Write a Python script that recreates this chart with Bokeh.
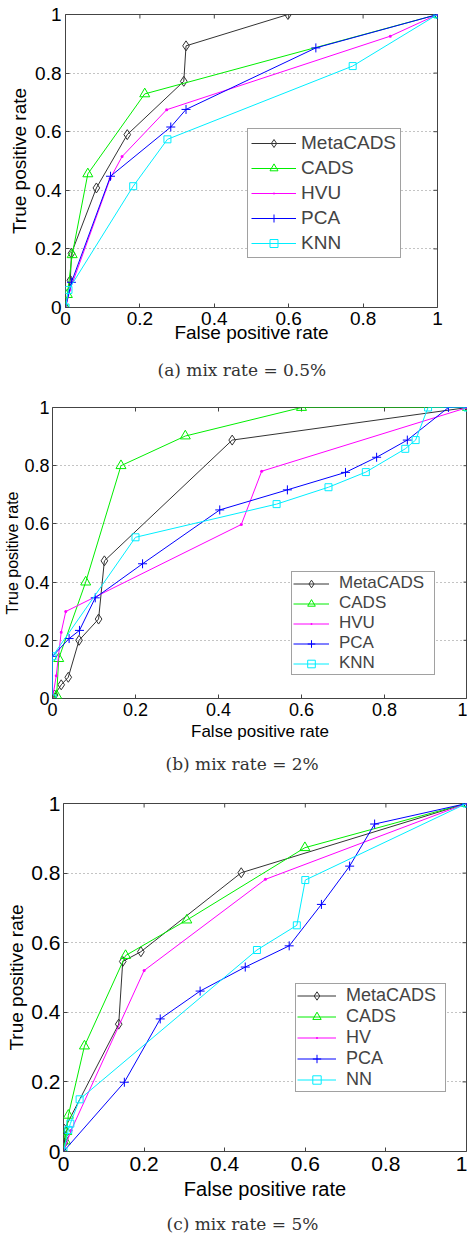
import math
from bokeh.plotting import figure
from bokeh.models import FixedTicker, Legend, LegendItem, Title, Range1d
from bokeh.embed import file_html
from bokeh.resources import INLINE

TICKS = [0, 0.2, 0.4, 0.6, 0.8, 1.0]
TICK_LABELS = ["0", "0.2", "0.4", "0.6", "0.8", "1"]
GRID_TICKS = [0.2, 0.4, 0.6, 0.8]
X_LABEL = "False positive rate"
Y_LABEL = "True positive rate"

# ---- panel (a) mix rate = 0.5% ----
A_NAMES = ["MetaCADS", "CADS", "HVU", "PCA", "KNN"]
A_META_X = [0, 0.013, 0.016, 0.083, 0.166, 0.318, 0.324, 0.598, 1.0]
A_META_Y = [0, 0.093, 0.185, 0.408, 0.590, 0.772, 0.893, 1.0, 1.0]
A_CADS_X = [0, 0.005, 0.018, 0.060, 0.213, 1.0]
A_CADS_Y = [0, 0.044, 0.180, 0.456, 0.729, 1.0]
A_HVU_X = [0, 0.012, 0.120, 0.152, 0.272, 0.873, 1.0]
A_HVU_Y = [0, 0.060, 0.440, 0.515, 0.675, 0.926, 1.0]
A_PCA_X = [0, 0.016, 0.121, 0.283, 0.324, 0.673, 1.0]
A_PCA_Y = [0, 0.086, 0.448, 0.616, 0.676, 0.886, 1.0]
A_KNN_X = [0, 0.008, 0.182, 0.274, 0.772, 1.0]
A_KNN_Y = [0, 0.060, 0.414, 0.574, 0.824, 1.0]

# ---- panel (b) mix rate = 2% ----
B_NAMES = ["MetaCADS", "CADS", "HVU", "PCA", "KNN"]
B_META_X = [0, 0.005, 0.021, 0.038, 0.064, 0.111, 0.125, 0.433, 1.0]
B_META_Y = [0, 0.012, 0.047, 0.073, 0.200, 0.273, 0.473, 0.888, 1.0]
B_CADS_X = [0, 0.010, 0.015, 0.080, 0.165, 0.320, 0.600, 1.0]
B_CADS_Y = [0, 0.010, 0.137, 0.400, 0.800, 0.902, 1.0, 1.0]
B_HVU_X = [0, 0.009, 0.021, 0.032, 0.455, 0.504, 1.0]
B_HVU_Y = [0, 0.078, 0.228, 0.299, 0.598, 0.781, 1.0]
B_PCA_X = [0, 0, 0.040, 0.065, 0.103, 0.217, 0.403, 0.566, 0.706, 0.781, 0.855, 0.954, 1.0]
B_PCA_Y = [0, 0.145, 0.206, 0.234, 0.346, 0.463, 0.648, 0.717, 0.777, 0.829, 0.888, 1.0, 1.0]
B_KNN_X = [0, 0, 0.200, 0.540, 0.665, 0.755, 0.850, 0.875, 0.905, 1.0]
B_KNN_Y = [0, 0.145, 0.554, 0.668, 0.726, 0.778, 0.858, 0.888, 1.0, 1.0]

# ---- panel (c) mix rate = 5% ----
C_NAMES = ["MetaCADS", "CADS", "HV", "PCA", "NN"]
C_META_X = [0, 0.002, 0.004, 0.002, 0.137, 0.147, 0.192, 0.441, 1.0]
C_META_Y = [0, 0.024, 0.043, 0.064, 0.366, 0.546, 0.574, 0.801, 1.0]
C_CADS_X = [0, 0.005, 0.008, 0.012, 0.052, 0.154, 0.306, 0.599, 1.0]
C_CADS_Y = [0, 0.030, 0.057, 0.104, 0.303, 0.563, 0.665, 0.873, 1.0]
C_HV_X = [0, 0.019, 0.200, 0.501, 1.0]
C_HV_Y = [0, 0.061, 0.520, 0.782, 1.0]
C_PCA_X = [0, 0.151, 0.240, 0.339, 0.451, 0.560, 0.640, 0.710, 0.772, 1.0]
C_PCA_Y = [0, 0.199, 0.381, 0.461, 0.530, 0.591, 0.710, 0.820, 0.941, 1.0]
C_NN_X = [0, 0.012, 0.017, 0.040, 0.480, 0.579, 0.600, 1.0]
C_NN_Y = [0, 0.062, 0.080, 0.150, 0.579, 0.650, 0.780, 1.0]

COLORS = ["#333333", "#00ee00", "#ff00ff", "#0000ff", "#00eeff"]
MARKERS = ["diamond", "triangle", "dot", "cross", "square"]
MSIZES = [10, 10, 12, 9, 7]
MFILL = [None, None, "#ff00ff", None, None]

SANS = "Liberation Sans"
SERIF = "DejaVu Serif"
AX_COLOR = "#444444"


def make_panel(series, names, caption, cfg):
    p = figure(width=cfg["w"], height=cfg["h"],
               min_border_left=cfg["left"], min_border_top=cfg["top"],
               min_border_right=cfg["right"], min_border_bottom=cfg["bottom"],
               x_range=Range1d(0, 1), y_range=Range1d(0, 1),
               output_backend="svg", toolbar_location=None,
               x_axis_label=X_LABEL, y_axis_label=Y_LABEL)
    p.background_fill_color = "white"
    p.border_fill_color = "white"
    p.outline_line_color = AX_COLOR
    p.outline_line_width = 1

    overrides = {t: l for t, l in zip(TICKS, TICK_LABELS)}
    for ax in (p.xaxis[0], p.yaxis[0]):
        ax.ticker = FixedTicker(ticks=TICKS)
        ax.major_label_overrides = overrides
        ax.major_label_text_font = SANS
        ax.major_label_text_font_size = cfg["tick_fs"]
        ax.major_label_text_color = "black"
        ax.axis_label_text_font = SANS
        ax.axis_label_text_font_style = "normal"
        ax.axis_label_text_color = "black"
        ax.major_tick_in = 4
        ax.major_tick_out = 0
        ax.major_tick_line_color = AX_COLOR
        ax.minor_tick_line_color = None
        ax.axis_line_color = None
    p.xaxis[0].axis_label_text_font_size = cfg["xlab_fs"]
    p.yaxis[0].axis_label_text_font_size = cfg["ylab_fs"]
    p.xaxis[0].major_label_standoff = cfg["xtick_so"]
    p.yaxis[0].major_label_standoff = cfg["ytick_so"]
    p.xaxis[0].axis_label_standoff = cfg["xlab_so"]
    p.yaxis[0].axis_label_standoff = cfg["ylab_so"]

    # inward ticks on the top and right edges of the box
    n = len(TICKS)
    p.ray(x=TICKS, y=[1.0] * n, length=4, length_units="screen",
          angle=-math.pi / 2, line_color=AX_COLOR, line_width=1)
    p.ray(x=[1.0] * n, y=TICKS, length=4, length_units="screen",
          angle=math.pi, line_color=AX_COLOR, line_width=1)

    p.xgrid.visible = False
    p.ygrid.ticker = FixedTicker(ticks=GRID_TICKS)
    p.ygrid.grid_line_color = "#888888"
    p.ygrid.grid_line_dash = "1 3"
    p.ygrid.grid_line_width = 1

    items = []
    for i, (xs, ys) in enumerate(series):
        lr = p.line(xs, ys, line_color=COLORS[i], line_width=1)
        mr = p.scatter(xs, ys, marker=MARKERS[i], size=MSIZES[i],
                       line_color=COLORS[i], line_width=1,
                       fill_color=MFILL[i])
        items.append(LegendItem(label=names[i], renderers=[lr, mr]))

    leg = Legend(items=items, location=cfg["leg_loc"],
                 label_text_font=SANS, label_text_font_size=cfg["leg_fs"],
                 glyph_width=cfg["leg_gw"], glyph_height=cfg["leg_h"],
                 label_height=cfg["leg_h"], label_width=cfg["leg_lw"],
                 spacing=cfg["leg_sp"], padding=cfg["leg_pad"],
                 label_standoff=cfg["leg_so"], margin=0,
                 border_line_color="#444444", border_line_width=1,
                 background_fill_color="white", background_fill_alpha=1.0)
    p.add_layout(leg)

    cap = Title(text=caption, align="left", text_font=SERIF,
                text_font_size="17px", text_font_style="normal",
                text_color="#333333", offset=cfg["cap_off"],
                standoff=cfg["cap_so"])
    p.add_layout(cap, "below")
    return p


CFG_A = dict(w=467, h=392, left=65, top=14, right=30, bottom=85,
             tick_fs="19px", xlab_fs="19px", ylab_fs="19px",
             xtick_so=4, ytick_so=4, xlab_so=-6, ylab_so=2,
             leg_fs="19px", leg_loc=(182, 49), leg_gw=45, leg_h=20, leg_lw=96,
             leg_sp=3, leg_pad=3, leg_so=5, cap_off=92, cap_so=24)
CFG_B = dict(w=467, h=398, left=52, top=15, right=0, bottom=92,
             tick_fs="18px", xlab_fs="17px", ylab_fs="16px",
             xtick_so=4, ytick_so=3, xlab_so=3, ylab_so=0,
             leg_fs="17px", leg_loc=(239, 23), leg_gw=36, leg_h=19, leg_lw=94,
             leg_sp=0, leg_pad=1, leg_so=10, cap_off=113, cap_so=16)
CFG_C = dict(w=467, h=452, left=63, top=13, right=1, bottom=87,
             tick_fs="21px", xlab_fs="20px", ylab_fs="19px",
             xtick_so=5, ytick_so=3, xlab_so=4, ylab_so=1,
             leg_fs="18px", leg_loc=(232, 59), leg_gw=39, leg_h=21, leg_lw=98,
             leg_sp=0, leg_pad=1, leg_so=10, cap_off=103, cap_so=18)

pa = make_panel([(A_META_X, A_META_Y), (A_CADS_X, A_CADS_Y), (A_HVU_X, A_HVU_Y),
                 (A_PCA_X, A_PCA_Y), (A_KNN_X, A_KNN_Y)], A_NAMES,
                "(a) mix rate = 0.5%", CFG_A)
pb = make_panel([(B_META_X, B_META_Y), (B_CADS_X, B_CADS_Y), (B_HVU_X, B_HVU_Y),
                 (B_PCA_X, B_PCA_Y), (B_KNN_X, B_KNN_Y)], B_NAMES,
                "(b) mix rate = 2%", CFG_B)
pc = make_panel([(C_META_X, C_META_Y), (C_CADS_X, C_CADS_Y), (C_HV_X, C_HV_Y),
                 (C_PCA_X, C_PCA_Y), (C_NN_X, C_NN_Y)], C_NAMES,
                "(c) mix rate = 5%", CFG_C)

open("out.html", "w").write(file_html([pa, pb, pc], INLINE))
